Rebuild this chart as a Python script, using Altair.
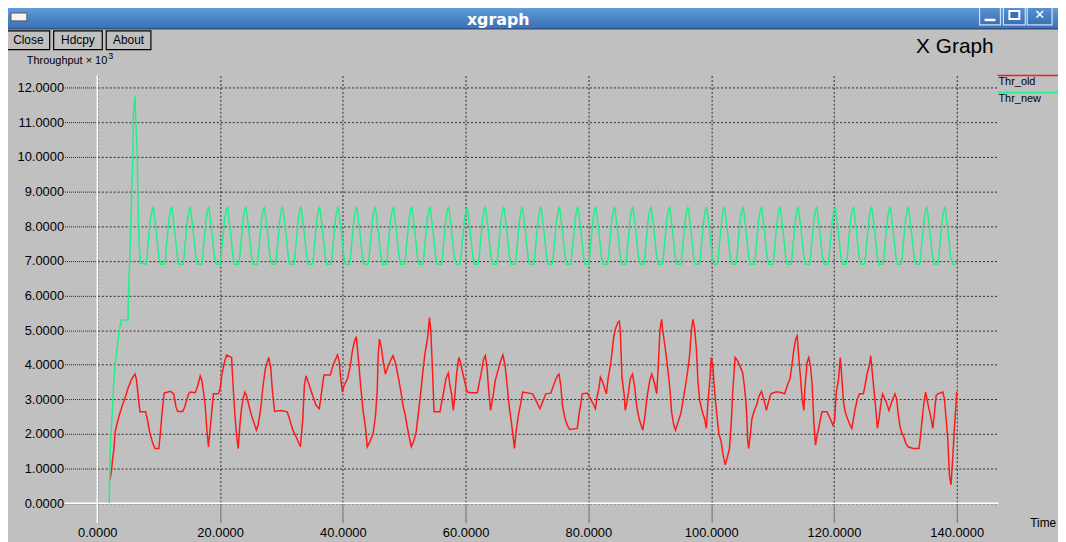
import altair as alt
import pandas as pd

# ---------------- data ----------------
# Thr_old (red): (time, throughput x 10^3)
thr_old = [
    (2.05, 0.68), (2.31, 0.92), (2.47, 1.25), (2.69, 1.54), (2.91, 2.06), (3.28, 2.35), (3.66, 2.59),
    (4.09, 2.83), (4.64, 3.11), (5.06, 3.35), (5.61, 3.59), (6.14, 3.73), (6.36, 3.59), (6.68, 3.07),
    (6.95, 2.64), (7.87, 2.64), (8.14, 2.44), (8.52, 2.06), (8.95, 1.78), (9.38, 1.58), (10.02, 1.58),
    (10.29, 2.06), (10.56, 2.64), (10.89, 3.18), (11.91, 3.23), (12.45, 3.16), (12.82, 2.78), (13.09, 2.65),
    (13.90, 2.65), (14.23, 2.78), (14.87, 3.16), (15.14, 3.21), (15.95, 3.19), (16.38, 3.40), (16.76, 3.68),
    (17.03, 3.54), (17.30, 3.21), (17.57, 2.83), (17.83, 2.16), (18.11, 1.63), (18.38, 2.16), (18.64, 2.64),
    (18.92, 3.16), (19.72, 3.16), (20.00, 3.30), (20.26, 3.68), (20.64, 4.02), (21.06, 4.28), (21.87, 4.21),
    (22.15, 3.30), (22.42, 2.54), (22.68, 1.97), (22.95, 1.58), (23.22, 2.25), (23.49, 2.73), (23.76, 3.02),
    (24.03, 3.21), (24.30, 3.11), (24.69, 2.83), (25.11, 2.54), (25.66, 2.25), (25.91, 2.11), (26.19, 2.25),
    (26.62, 2.73), (27.00, 3.40), (27.37, 3.88), (27.92, 4.21), (28.24, 3.93), (28.50, 3.30), (28.88, 2.65),
    (29.96, 2.68), (30.93, 2.64), (31.31, 2.44), (31.85, 2.11), (32.38, 1.92), (33.09, 1.63), (33.46, 2.40),
    (33.73, 3.40), (34.00, 3.68), (34.54, 3.40), (35.08, 3.11), (35.62, 2.83), (36.16, 2.73), (36.43, 3.07),
    (36.86, 3.64), (36.97, 3.70), (37.94, 3.70), (38.32, 3.93), (38.69, 4.11), (39.12, 4.28), (39.39, 4.11),
    (39.66, 3.59), (39.93, 3.21), (40.20, 3.40), (40.74, 3.59), (41.17, 3.93), (41.55, 4.40), (41.92, 4.69),
    (42.19, 4.81), (42.51, 4.21), (42.89, 3.40), (43.32, 2.64), (43.70, 2.16), (43.97, 1.63), (44.41, 1.78),
    (44.94, 2.01), (45.32, 2.54), (45.59, 3.21), (45.75, 4.26), (45.96, 4.74), (46.23, 4.54), (46.56, 4.11),
    (46.93, 3.73), (47.32, 3.93), (47.74, 4.11), (48.17, 4.26), (48.55, 4.07), (49.09, 3.59), (49.47, 3.21),
    (49.79, 2.83), (50.17, 2.54), (50.44, 2.25), (50.71, 2.01), (51.14, 1.63), (51.52, 1.78), (51.94, 2.06),
    (52.33, 2.64), (52.70, 3.21), (53.02, 3.78), (53.40, 4.36), (53.78, 4.74), (54.11, 5.36), (54.32, 5.02),
    (54.64, 3.68), (54.85, 2.64), (55.82, 2.64), (56.10, 2.92), (56.37, 3.16), (56.79, 3.59), (57.18, 3.76),
    (57.44, 3.40), (57.71, 3.16), (57.99, 2.68), (58.25, 3.11), (58.52, 3.73), (58.89, 4.21), (59.17, 4.07),
    (59.44, 3.83), (59.87, 3.50), (60.25, 3.21), (60.94, 3.19), (61.91, 3.19), (62.19, 3.45), (62.56, 3.78),
    (62.93, 4.16), (63.21, 4.26), (63.48, 3.93), (63.74, 3.30), (64.07, 2.68), (64.45, 3.07), (64.82, 3.54),
    (65.26, 3.83), (65.63, 4.07), (66.07, 4.28), (66.44, 3.97), (66.76, 3.40), (67.14, 2.73), (67.52, 2.25),
    (67.95, 1.58), (68.22, 2.06), (68.59, 2.54), (68.92, 2.83), (69.30, 3.21), (70.91, 3.16), (71.45, 2.97),
    (72.10, 2.73), (72.53, 2.92), (73.07, 3.16), (73.88, 3.18), (74.41, 3.45), (74.96, 3.68), (75.22, 3.73),
    (75.50, 3.40), (75.77, 2.83), (76.19, 2.44), (76.58, 2.25), (76.95, 2.13), (78.19, 2.16), (78.45, 2.54),
    (78.73, 2.83), (79.00, 3.16), (79.81, 3.18), (80.34, 3.02), (80.88, 2.83), (81.15, 2.73), (81.42, 3.07),
    (81.69, 3.30), (81.96, 3.64), (82.33, 3.50), (82.66, 3.30), (82.93, 3.16), (83.20, 3.59), (83.58, 3.97),
    (83.85, 4.36), (84.11, 4.78), (84.38, 5.02), (84.76, 5.21), (85.03, 5.26), (85.19, 5.02), (85.47, 3.64),
    (85.84, 3.11), (86.00, 2.68), (86.28, 2.92), (86.54, 3.21), (86.81, 3.59), (87.18, 3.73), (87.51, 3.40),
    (87.89, 2.78), (88.26, 2.44), (88.59, 2.25), (88.86, 2.11), (89.23, 2.54), (89.51, 3.02), (89.77, 3.30),
    (90.04, 3.59), (90.32, 3.73), (90.58, 3.59), (90.85, 3.40), (91.12, 3.16), (91.39, 3.97), (91.66, 5.02),
    (91.93, 5.31), (92.09, 5.02), (92.47, 4.54), (92.74, 4.16), (93.00, 3.78), (93.28, 3.30), (93.55, 2.64),
    (93.92, 2.25), (94.20, 2.11), (94.62, 2.35), (95.06, 2.59), (95.43, 2.97), (95.82, 3.40), (96.14, 3.78),
    (96.51, 4.31), (96.78, 5.02), (97.04, 5.31), (97.32, 5.02), (97.59, 4.45), (97.85, 3.50), (98.13, 2.97),
    (98.50, 2.68), (98.93, 2.44), (99.21, 2.16), (99.47, 2.92), (99.74, 3.45), (100.02, 4.21), (100.28, 3.97),
    (100.44, 3.50), (100.72, 2.92), (100.99, 2.44), (101.25, 2.01), (101.63, 1.78), (101.90, 1.44), (102.28, 1.11),
    (102.60, 1.30), (102.98, 1.58), (103.25, 2.25), (103.51, 3.21), (103.90, 4.21), (104.32, 4.11), (104.75, 3.93),
    (105.12, 3.78), (105.40, 3.40), (105.67, 2.92), (105.83, 2.40), (105.93, 1.87), (106.10, 1.58), (106.37, 1.97),
    (106.64, 2.44), (107.02, 2.68), (107.39, 2.83), (107.83, 3.11), (108.20, 3.23), (108.63, 2.97), (109.00, 2.68),
    (109.33, 2.92), (109.71, 3.16), (110.52, 3.21), (111.06, 3.21), (111.97, 3.16), (112.40, 3.40), (112.84, 3.59),
    (113.21, 4.07), (113.48, 4.45), (113.76, 4.74), (114.02, 4.83), (114.29, 4.16), (114.57, 3.59), (114.82, 3.02),
    (115.10, 2.68), (115.26, 3.30), (115.63, 4.07), (115.90, 4.21), (116.18, 3.97), (116.44, 3.45), (116.72, 2.35),
    (116.99, 1.68), (117.25, 1.97), (117.53, 2.16), (117.80, 2.44), (118.06, 2.64), (118.87, 2.64), (119.41, 2.44),
    (119.84, 2.25), (120.11, 2.40), (120.38, 3.21), (120.76, 3.59), (121.03, 4.21), (121.30, 3.59), (121.56, 2.92),
    (121.84, 2.64), (122.21, 2.44), (122.65, 2.25), (122.91, 2.16), (123.18, 2.44), (123.46, 2.73), (123.84, 3.02),
    (124.15, 3.16), (124.80, 3.16), (125.17, 3.50), (125.45, 3.78), (125.77, 3.97), (125.99, 4.26), (126.32, 3.64),
    (126.58, 3.16), (126.86, 2.64), (127.07, 2.16), (127.35, 2.44), (127.61, 2.83), (127.93, 3.16), (128.31, 3.02),
    (128.69, 2.83), (128.97, 2.68), (129.39, 2.92), (129.93, 3.16), (130.20, 3.02), (130.47, 2.59), (130.73, 2.25),
    (131.00, 2.06), (131.38, 1.92), (131.71, 1.73), (132.07, 1.63), (132.88, 1.58), (133.85, 1.58), (134.06, 1.87),
    (134.33, 2.35), (134.61, 2.83), (134.93, 3.21), (135.14, 3.02), (135.47, 2.73), (135.84, 2.44), (136.11, 2.16),
    (136.39, 2.64), (136.65, 3.11), (136.92, 3.16), (137.73, 3.21), (138.00, 3.02), (138.27, 2.44), (138.54, 1.87),
    (138.81, 0.82), (139.07, 0.53), (139.35, 1.30), (139.62, 2.16), (139.88, 2.83), (140.00, 3.21),
]

# Thr_new (green): start-up ramp and overshoot
thr_new_start = [
    (1.94, 0.00), (2.00, 0.72), (2.10, 1.49), (2.26, 2.11), (2.47, 2.73), (2.64, 3.40), (2.91, 4.02),
    (3.28, 4.54), (3.56, 4.97), (3.93, 5.29), (5.01, 5.29), (5.05, 5.88), (5.17, 6.46), (5.45, 7.98),
    (5.61, 9.03), (5.82, 10.13), (5.87, 11.18), (6.14, 11.76), (6.24, 11.18), (6.51, 10.00), (6.63, 8.70),
    (6.79, 7.50), (7.06, 6.93),
]
# Thr_new saw-tooth: times of the peaks, peak value, and the measured rise / fall shape around each peak
thr_new_peak_times = [
    9.10, 12.12, 15.14, 18.16, 21.18, 24.20, 27.21, 30.19, 33.19, 36.21, 39.24, 42.26, 45.28, 48.24, 51.23,
    54.20, 57.23, 60.25, 63.21, 66.23, 69.24, 72.26, 75.28, 78.29, 81.20, 84.27, 87.24, 90.20, 93.22, 96.23,
    99.26, 102.17, 105.19, 108.20, 111.22, 114.18, 117.20, 120.21, 123.18, 126.14, 129.16, 132.12, 135.14, 138.09,
]
thr_new_peak = 8.56
rise_dt = [-1.17, -1.00, -0.84, -0.63, -0.47, -0.25]
rise_v = [6.90, 7.12, 7.46, 7.84, 8.17, 8.41]
fall_dt = [0.10, 0.25, 0.48, 0.70, 0.92, 1.19]
fall_v = [8.45, 8.20, 7.89, 7.50, 7.12, 6.90]
thr_new_end = [(139.90, 6.90)]

x_ticks = [0, 20, 40, 60, 80, 100, 120, 140]
y_ticks = [0, 1, 2, 3, 4, 5, 6, 7, 8, 9, 10, 11, 12]
series_names = ["Thr_old", "Thr_new"]
series_colors = ["#ff1a1a", "#1ff088"]

# ---------------- table ----------------
rows = []
for i, (t, v) in enumerate(thr_old):
    rows.append({"t": t, "v": v, "s": "Thr_old", "i": i})
green = list(thr_new_start)
for pt in thr_new_peak_times:
    green += [(pt + d, v) for d, v in zip(rise_dt, rise_v)]
    green.append((pt, thr_new_peak))
    green += [(pt + d, v) for d, v in zip(fall_dt, fall_v)]
green += thr_new_end
for i, (t, v) in enumerate(green):
    rows.append({"t": t, "v": v, "s": "Thr_new", "i": i})
df = pd.DataFrame(rows)
one = pd.DataFrame({"k": [0]})

W, H = 908, 431
FONT = "Liberation Sans"

xs = alt.Scale(domain=[0, 146.8], nice=False, zero=False)
ys = alt.Scale(domain=[0, 12.35], nice=False, zero=False)

x_axis = alt.Axis(values=x_ticks, format=".4f", title=None, domain=False, grid=True,
                  gridColor="#111111", gridDash=[2, 2], gridOpacity=0.85, gridWidth=1,
                  tickSize=20, tickColor="#222222", tickDash=[1, 1], tickWidth=1,
                  labelFont=FONT, labelFontSize=13, labelColor="#000000", labelPadding=3,
                  labelFlush=False, labelOverlap=False)
y_axis = alt.Axis(values=y_ticks, tickCount=13, format=".4f", title=None, domain=False, grid=True,
                  gridColor="#111111", gridDash=[2, 2], gridOpacity=0.85, gridWidth=1,
                  tickSize=33, tickColor="#222222", tickDash=[1, 1], tickWidth=1,
                  labelFont=FONT, labelFontSize=13, labelColor="#000000", labelPadding=1,
                  labelOverlap=False, labelFlush=False)

lines = alt.Chart(df).mark_line(strokeWidth=1.5).encode(
    x=alt.X("t:Q", scale=xs, axis=x_axis),
    y=alt.Y("v:Q", scale=ys, axis=y_axis),
    color=alt.Color("s:N", scale=alt.Scale(domain=series_names, range=series_colors), legend=None),
    order=alt.Order("i:Q"),
)

zero_v = alt.Chart(one).mark_rule(color="white", strokeWidth=1.5).encode(
    x=alt.datum(0), y=alt.value(0), y2=alt.value(H + 20))
zero_h = alt.Chart(one).mark_rule(color="white", strokeWidth=1.5).encode(
    y=alt.datum(0), x=alt.value(-33), x2=alt.value(W))


def box(x, x2, y, y2, fill, stroke=None, sw=1.0):
    kw = {"fill": fill}
    if stroke is not None:
        kw.update(stroke=stroke, strokeWidth=sw)
    return alt.Chart(one).mark_rect(**kw).encode(
        x=alt.value(x), x2=alt.value(x2), y=alt.value(y), y2=alt.value(y2))


def label(txt, x, y, size, color="#000000", font=FONT, weight="normal", align="left", baseline="middle"):
    return alt.Chart(one).mark_text(font=font, fontSize=size, fontWeight=weight, color=color,
                                    align=align, baseline=baseline).encode(
        x=alt.value(x), y=alt.value(y), text=alt.value(txt))


def hline(x, x2, y, color, sw=1.5):
    return alt.Chart(one).mark_rule(color=color, strokeWidth=sw).encode(
        x=alt.value(x), x2=alt.value(x2), y=alt.value(y))


bar_grad = alt.Gradient(gradient="linear", x1=0, x2=0, y1=0, y2=1, stops=[
    alt.GradientStop(color="#74a8e0", offset=0),
    alt.GradientStop(color="#4f8bcc", offset=0.5),
    alt.GradientStop(color="#3b70b6", offset=1),
])
btn_grad = alt.Gradient(gradient="linear", x1=0, x2=0, y1=0, y2=1, stops=[
    alt.GradientStop(color="#5d97d6", offset=0),
    alt.GradientStop(color="#3a6eb5", offset=1),
])

deco = [
    # window title bar
    alt.Chart(one).mark_rect(fill=bar_grad).encode(
        x=alt.value(-98), x2=alt.value(968), y=alt.value(-74), y2=alt.value(-47)),
    hline(-98, 968, -47, "#2a4a78", 1.5),
    box(-87, -71, -63, -55, "#f4f4f4", "#555555", 1),
    label("xgraph", 404, -51, 16, color="#ffffff", font="DejaVu Sans", weight="bold",
          align="center", baseline="alphabetic"),
    box(889, 910, -71, -51, btn_grad, "#cfe0f5", 1.2),
    box(913, 935, -71, -51, btn_grad, "#cfe0f5", 1.2),
    box(937, 962, -71, -51, btn_grad, "#cfe0f5", 1.2),
    hline(894, 905, -56, "#ffffff", 2.5),
    box(919, 929, -65, -57, "#3a6eb5", "#ffffff", 2),
    label("\u2715", 949.5, -61, 13, color="#ffffff", font="DejaVu Sans", weight="bold", align="center"),
    # buttons
    box(-91, -48, -45, -26, "#c0c0c0", "#000000", 1.2),
    box(-44, 5, -45, -26, "#c0c0c0", "#000000", 1.2),
    box(9, 54, -45, -26, "#c0c0c0", "#000000", 1.2),
    label("Close", -69.5, -35.5, 12, align="center"),
    label("Hdcpy", -19.5, -35.5, 12, align="center"),
    label("About", 31.5, -35.5, 12, align="center"),
    # texts
    label("Throughput \u00d7 10", -71, -15, 11),
    label("3", 11, -20, 9),
    label("X Graph", 825, -29, 21),
    label("Time", 940, 451, 12),
    # legend
    hline(907, 968, 0, series_colors[0], 1.5),
    label("Thr_old", 908, 7, 11),
    hline(907, 968, 17, series_colors[1], 1.5),
    label("Thr_new", 908, 23.5, 11),
]

chart = alt.layer(zero_v, zero_h, lines, *deco).properties(
    width=W, height=H,
    autosize="none",
    padding={"left": 90, "top": 66, "right": 60, "bottom": 37},
).configure(background="#c0c0c0").configure_view(stroke=None)

chart.save("out.html", embed_options={"renderer": "svg", "actions": False})
